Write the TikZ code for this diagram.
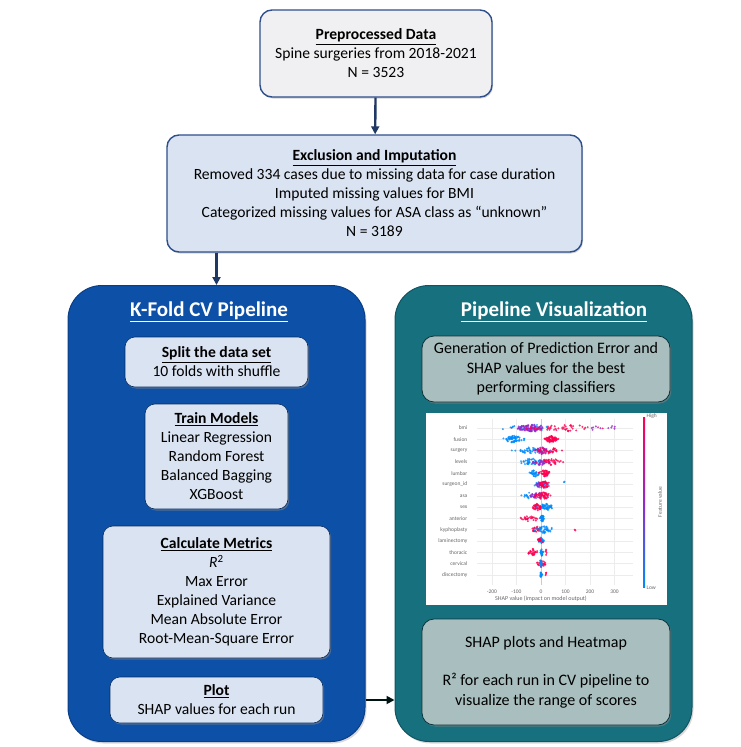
\documentclass[tikz,border=0pt]{standalone}
\usepackage{fontspec}
\setmainfont{Carlito}
\usetikzlibrary{arrows.meta,shadows}
\definecolor{navyline}{HTML}{2E4F8C}
\definecolor{arrownavy}{HTML}{1F3864}
\definecolor{prepgray}{HTML}{F0F0F2}
\definecolor{lightblue}{HTML}{DAE3F1}
\definecolor{kfoldblue}{HTML}{0C50A8}
\definecolor{kfoldedge}{HTML}{0A3F86}
\definecolor{visteal}{HTML}{17707E}
\definecolor{visedge}{HTML}{0F5562}
\definecolor{visgray}{HTML}{A9BEBE}
\definecolor{shapblue}{RGB}{0,139,251}
\definecolor{shapred}{RGB}{255,0,81}
\definecolor{shappurp}{RGB}{150,40,200}
\definecolor{gridgray}{HTML}{ECECEC}
\definecolor{ticktext}{HTML}{666666}
% dots of one row: y, count, centre, spread (SHAP units), colour
\newcommand{\shapdots}[5]{%
  \foreach \k in {1,...,#2}{%
    \pgfmathsetmacro\dx{#3+#4*(rnd+rnd+rnd-1.5)/1.5}%
    \pgfmathsetmacro\dy{3.6*rand*(1-abs(\dx-#3)/(#4+0.01))}%
    \fill[#5,opacity=0.8] (541+0.245*\dx,#1+\dy) circle (1.1);
  }}
\begin{document}
\begin{tikzpicture}[x=1pt,y=-1pt,
  textfont/.style={font=\fontsize{15.6}{19}\selectfont},
  topbox/.style={draw=navyline,line width=1.4pt,rounded corners=12pt,align=center,textfont,
    drop shadow={opacity=0.35,shadow xshift=1pt,shadow yshift=-1.5pt}},
  panel/.style={rounded corners=34pt,line width=1pt,
    drop shadow={opacity=0.3,shadow xshift=1.5pt,shadow yshift=-2pt}},
  kbox/.style={draw=kfoldedge!70!black,line width=0.6pt,fill=lightblue,rounded corners=10pt,
    align=center,textfont,drop shadow={opacity=0.6,shadow xshift=1.2pt,shadow yshift=-1.5pt}},
  vbox/.style={draw=visedge!60!black,line width=0.8pt,fill=visgray,rounded corners=12pt,
    align=center,font=\fontsize{16}{19.5}\selectfont,
    drop shadow={opacity=0.6,shadow xshift=1.2pt,shadow yshift=-1.5pt}},
  paneltitle/.style={text=white,font=\fontsize{21}{24}\selectfont\bfseries},
  flow/.style={-{Triangle[length=8pt,width=8pt]},line width=2.4pt,draw=arrownavy},
  ticklabel/.style={text=ticktext,font=\fontsize{5.5}{6}\selectfont,inner sep=0.5pt}]
\useasboundingbox (0,0) rectangle (741,747);

% top of the flow
\node[topbox,fill=prepgray,minimum width=232pt,minimum height=87pt] (prep) at (376,53.5)
  {\textbf{\underline{Preprocessed Data}}\\Spine surgeries from 2018-2021\\N = 3523};
\node[topbox,fill=lightblue,minimum width=415pt,minimum height=117pt] (excl) at (374.5,193.5)
  {\textbf{\underline{Exclusion and Imputation}}\\Removed 334 cases due to missing data for case duration\\
   Imputed missing values for BMI\\Categorized missing values for ASA class as “unknown”\\N = 3189};

% the two panels
\node[panel,draw=kfoldedge,fill=kfoldblue,minimum width=297pt,minimum height=456pt] (kfold) at (216.5,513.5) {};
\node[panel,draw=visedge,fill=visteal,minimum width=297pt,minimum height=456pt] (vis) at (543.5,513.5) {};
\node[paneltitle] (kfoldtitle) at (209,312) {\underline{K-Fold CV Pipeline}};
\node[paneltitle] (vistitle) at (554,312) {\underline{Pipeline Visualization}};

% K-fold steps
\node[kbox,minimum width=183pt,minimum height=50pt] (split) at (216.5,362)
  {\textbf{\underline{Split the data set}}\\10 folds with shuffle};
\node[kbox,minimum width=143pt,minimum height=105pt] (train) at (216.5,456.5)
  {\textbf{\underline{Train Models}}\\Linear Regression\\Random Forest\\Balanced Bagging\\XGBoost};
\node[kbox,minimum width=227pt,minimum height=132pt] (metrics) at (216.5,592)
  {\textbf{\underline{Calculate Metrics}}\\\textit{R}\textsuperscript{2}\\Max Error\\Explained Variance\\
   Mean Absolute Error\\Root-Mean-Square Error};
\node[kbox,minimum width=213pt,minimum height=46pt] (plot) at (216.5,700)
  {\textbf{\underline{Plot}}\\SHAP values for each run};

% visualization steps
\node[vbox,minimum width=248pt,minimum height=66pt] (gen) at (546,369)
  {Generation of Prediction Error and\\SHAP values for the best\\performing classifiers};
\node[vbox,minimum width=248pt,minimum height=106pt] (heat) at (546,672)
  {SHAP plots and Heatmap\\[19pt]R² for each run in CV pipeline to\\visualize the range of scores};

% SHAP summary plot
\node[fill=white,minimum width=241pt,minimum height=192pt,inner sep=0pt] (shap) at (546.5,509) {};
\foreach \t in {-200,-100,...,300}{
  \draw[gridgray,line width=0.5pt] (541+0.245*\t,419) -- (541+0.245*\t,585);
  \node[ticklabel] at (541+0.245*\t,592) {\t};
}
\foreach \feat [count=\r from 0] in {bmi,fusion,surgery,levels,lumbar,surgeon\_id,asa,sex,
    anterior,kyphoplasty,laminectomy,thoracic,cervical,discectomy}{
  \draw[gridgray,line width=0.5pt] (477,428+11.3*\r) -- (633,428+11.3*\r);
  \node[ticklabel,anchor=east] at (468,428+11.3*\r) {\feat};
}
\draw[gridgray!70!gray,line width=0.4pt] (541,419) -- (541,585);
\node[ticklabel,font=\fontsize{6}{7}\selectfont] at (541,599) {SHAP value (impact on model output)};
\pgfmathsetseed{7}
\shapdots{428}{30}{-40}{180}{shapblue}
\shapdots{428}{90}{-45}{85}{shappurp}
\shapdots{428}{50}{90}{230}{shapred}
\shapdots{428}{10}{250}{90}{shappurp}
\shapdots{439.3}{60}{-110}{65}{shapblue}
\shapdots{439.3}{80}{40}{42}{shapred}
\shapdots{450.6}{35}{-50}{80}{shapblue}
\shapdots{450.6}{45}{5}{50}{shappurp}
\shapdots{450.6}{35}{30}{75}{shapred}
\shapdots{461.9}{45}{-40}{70}{shapblue}
\shapdots{461.9}{30}{0}{50}{shappurp}
\shapdots{461.9}{32}{40}{70}{shapred}
\shapdots{473.2}{32}{-25}{28}{shapblue}
\shapdots{473.2}{45}{15}{30}{shapred}
\shapdots{484.5}{32}{0}{50}{shapblue}
\shapdots{484.5}{15}{0}{30}{shappurp}
\shapdots{484.5}{38}{15}{35}{shapred}
\shapdots{484.5}{2}{95}{5}{shapblue}
\shapdots{495.8}{15}{-50}{40}{shapblue}
\shapdots{495.8}{38}{-10}{50}{shappurp}
\shapdots{495.8}{45}{10}{45}{shapred}
\shapdots{507.1}{45}{-15}{30}{shapred}
\shapdots{507.1}{45}{20}{45}{shapblue}
\shapdots{518.4}{28}{-40}{55}{shapred}
\shapdots{518.4}{38}{5}{12}{shapblue}
\shapdots{529.7}{22}{-20}{25}{shapred}
\shapdots{529.7}{45}{15}{55}{shapblue}
\shapdots{529.7}{2}{140}{3}{shapred}
\shapdots{541}{30}{0}{15}{shapblue}
\shapdots{541}{15}{-5}{15}{shapred}
\shapdots{552.3}{28}{-35}{30}{shapred}
\shapdots{552.3}{30}{3}{8}{shapblue}
\shapdots{552.3}{5}{22}{5}{shapred}
\shapdots{563.6}{28}{0}{30}{shapred}
\shapdots{563.6}{22}{0}{6}{shapblue}
\shapdots{574.9}{18}{0}{6}{shapblue}
\shapdots{574.9}{4}{20}{3}{shapred}
% colour bar
\shade[bottom color=shapblue,top color=shapred,middle color=shappurp] (643.2,417) rectangle (645.2,587);
\node[ticklabel,anchor=west] at (646,416) {High};
\node[ticklabel,anchor=west] at (646,588) {Low};
\node[ticklabel,rotate=90] at (660,502) {Feature value};

% connectors
\draw[flow] (prep) -- (excl);
\draw[flow] (excl.south -| kfold.north) -- (kfold.north);
\draw[-{Triangle[length=8pt,width=8pt]},line width=1.8pt,draw=black!85!teal]
  (plot.east -| kfold.east) -- (plot.east -| vis.west);
\end{tikzpicture}
\end{document}
